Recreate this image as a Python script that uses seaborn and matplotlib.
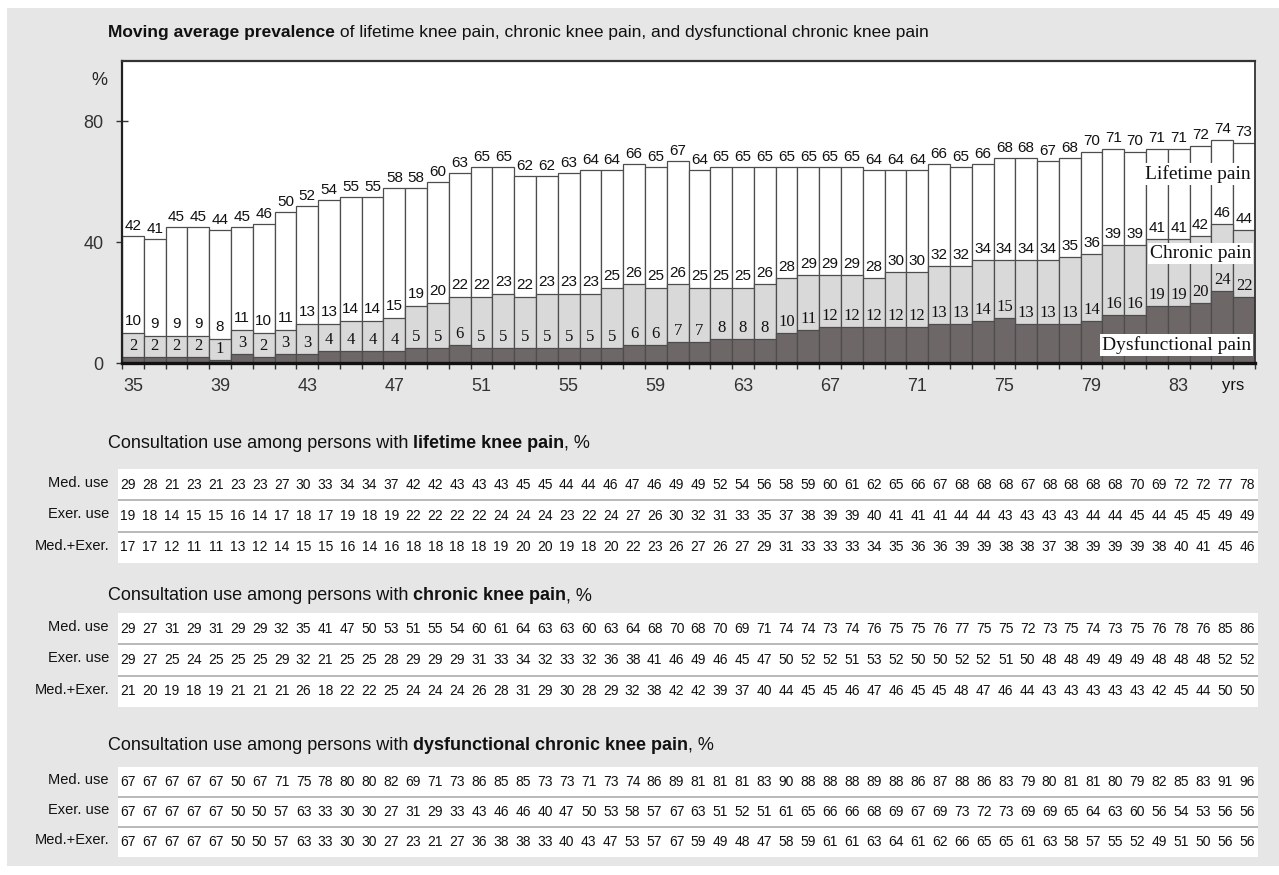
import numpy as np
import pandas as pd
import matplotlib
matplotlib.use("Agg")
import matplotlib.pyplot as plt
import matplotlib.transforms as mtransforms
from matplotlib import font_manager
from matplotlib.patches import Rectangle
import seaborn as sns

# ---------------------------------------------------------------- data
ages = list(range(35, 87))

lifetime = [42, 41, 45, 45, 44, 45, 46, 50, 52, 54, 55, 55, 58, 58, 60, 63, 65, 65,
            62, 62, 63, 64, 64, 66, 65, 67, 64, 65, 65, 65, 65, 65, 65, 65, 64, 64,
            64, 66, 65, 66, 68, 68, 67, 68, 70, 71, 70, 71, 71, 72, 74, 73]
chronic = [10, 9, 9, 9, 8, 11, 10, 11, 13, 13, 14, 14, 15, 19, 20, 22, 22, 23,
           22, 23, 23, 23, 25, 26, 25, 26, 25, 25, 25, 26, 28, 29, 29, 29, 28, 30,
           30, 32, 32, 34, 34, 34, 34, 35, 36, 39, 39, 41, 41, 42, 46, 44]
dysfunctional = [2, 2, 2, 2, 1, 3, 2, 3, 3, 4, 4, 4, 4, 5, 5, 6, 5, 5,
                 5, 5, 5, 5, 5, 6, 6, 7, 7, 8, 8, 8, 10, 11, 12, 12, 12, 12,
                 12, 13, 13, 14, 15, 13, 13, 13, 14, 16, 16, 19, 19, 20, 24, 22]

lifetime_med = [29, 28, 21, 23, 21, 23, 23, 27, 30, 33, 34, 34, 37, 42, 42, 43, 43, 43,
                45, 45, 44, 44, 46, 47, 46, 49, 49, 52, 54, 56, 58, 59, 60, 61, 62, 65,
                66, 67, 68, 68, 68, 67, 68, 68, 68, 68, 70, 69, 72, 72, 77, 78]
lifetime_exer = [19, 18, 14, 15, 15, 16, 14, 17, 18, 17, 19, 18, 19, 22, 22, 22, 22, 24,
                 24, 24, 23, 22, 24, 27, 26, 30, 32, 31, 33, 35, 37, 38, 39, 39, 40, 41,
                 41, 41, 44, 44, 43, 43, 43, 43, 44, 44, 45, 44, 45, 45, 49, 49]
lifetime_both = [17, 17, 12, 11, 11, 13, 12, 14, 15, 15, 16, 14, 16, 18, 18, 18, 18, 19,
                 20, 20, 19, 18, 20, 22, 23, 26, 27, 26, 27, 29, 31, 33, 33, 33, 34, 35,
                 36, 36, 39, 39, 38, 38, 37, 38, 39, 39, 39, 38, 40, 41, 45, 46]

chronic_med = [29, 27, 31, 29, 31, 29, 29, 32, 35, 41, 47, 50, 53, 51, 55, 54, 60, 61,
               64, 63, 63, 60, 63, 64, 68, 70, 68, 70, 69, 71, 74, 74, 73, 74, 76, 75,
               75, 76, 77, 75, 75, 72, 73, 75, 74, 73, 75, 76, 78, 76, 85, 86]
chronic_exer = [29, 27, 25, 24, 25, 25, 25, 29, 32, 21, 25, 25, 28, 29, 29, 29, 31, 33,
                34, 32, 33, 32, 36, 38, 41, 46, 49, 46, 45, 47, 50, 52, 52, 51, 53, 52,
                50, 50, 52, 52, 51, 50, 48, 48, 49, 49, 49, 48, 48, 48, 52, 52]
chronic_both = [21, 20, 19, 18, 19, 21, 21, 21, 26, 18, 22, 22, 25, 24, 24, 24, 26, 28,
                31, 29, 30, 28, 29, 32, 38, 42, 42, 39, 37, 40, 44, 45, 45, 46, 47, 46,
                45, 45, 48, 47, 46, 44, 43, 43, 43, 43, 43, 42, 45, 44, 50, 50]

dysf_med = [67, 67, 67, 67, 67, 50, 67, 71, 75, 78, 80, 80, 82, 69, 71, 73, 86, 85,
            85, 73, 73, 71, 73, 74, 86, 89, 81, 81, 81, 83, 90, 88, 88, 88, 89, 88,
            86, 87, 88, 86, 83, 79, 80, 81, 81, 80, 79, 82, 85, 83, 91, 96]
dysf_exer = [67, 67, 67, 67, 67, 50, 50, 57, 63, 33, 30, 30, 27, 31, 29, 33, 43, 46,
             46, 40, 47, 50, 53, 58, 57, 67, 63, 51, 52, 51, 61, 65, 66, 66, 68, 69,
             67, 69, 73, 72, 73, 69, 69, 65, 64, 63, 60, 56, 54, 53, 56, 56]
dysf_both = [67, 67, 67, 67, 67, 50, 50, 57, 63, 33, 30, 30, 27, 23, 21, 27, 36, 38,
             38, 33, 40, 43, 47, 53, 57, 67, 59, 49, 48, 47, 58, 59, 61, 61, 63, 64,
             61, 62, 66, 65, 65, 61, 63, 58, 57, 55, 52, 49, 51, 50, 56, 56]

row_labels = ["Med. use", "Exer. use", "Med.+Exer."]

# ---------------------------------------------------------------- style
sns.set_theme(style="white")
available = {f.name for f in font_manager.fontManager.ttflist}
HAS_NARROW = "Liberation Sans Narrow" in available
NARROW = "Liberation Sans Narrow" if HAS_NARROW else "Liberation Sans"
SANS = "Liberation Sans"
SERIF = "Liberation Serif"
plt.rcParams["font.family"] = [SANS, "DejaVu Sans"]


def ns(size):
    """Font size for the compact labels; the condensed face can run larger."""
    return size * 1.15 if HAS_NARROW else size


W, H = 1279, 875
fig = plt.figure(figsize=(W / 100, H / 100), dpi=100, facecolor="white")


def fx(px):
    return px / W


def fy(py):
    return 1 - py / H


# grey panel behind everything
fig.patches.append(Rectangle((fx(7), fy(866)), fx(1279) - fx(7), fy(8) - fy(866),
                             transform=fig.transFigure, facecolor="#e6e6e6",
                             edgecolor="none", zorder=-10))

renderer = fig.canvas.get_renderer()


def rich_text(x_px, y_px, parts, size):
    x = x_px
    for txt, weight in parts:
        t = fig.text(fx(x), fy(y_px), txt, fontsize=size, fontweight=weight,
                     family=[SANS, "DejaVu Sans"], ha="left", va="center", color="#111111")
        x += t.get_window_extent(renderer=renderer).width


# ---------------------------------------------------------------- bar chart
ax = fig.add_axes([fx(122), fy(363), fx(1255) - fx(122), (363 - 61) / H])
ax.set_facecolor("white")

df = pd.DataFrame({"age": [str(a) for a in ages], "lifetime": lifetime,
                   "chronic": chronic, "dysfunctional": dysfunctional})
for col, colr in [("lifetime", "white"), ("chronic", "#d9d9d9"),
                  ("dysfunctional", "#6e6767")]:
    sns.barplot(data=df, x="age", y=col, color=colr, width=1.0, saturation=1,
                edgecolor="#4d4d4d", linewidth=0.9, errorbar=None, ax=ax)

n = len(ages)
ax.set_xlim(-0.5, n - 0.5)
ax.set_ylim(0, 100)
ax.set_xlabel("")
ax.set_ylabel("")

for i in range(n):
    ax.annotate(str(lifetime[i]), (i, lifetime[i]), xytext=(0, 4.4),
                textcoords="offset points", ha="center", va="baseline",
                fontsize=ns(11), family=[NARROW, SANS], color="#111111")
    ax.annotate(str(chronic[i]), (i, chronic[i]), xytext=(0, 5.4),
                textcoords="offset points", ha="center", va="baseline",
                fontsize=ns(11), family=[NARROW, SANS], color="#111111")
    ax.annotate(str(dysfunctional[i]), (i, dysfunctional[i]), xytext=(0, 5.0),
                textcoords="offset points", ha="center", va="baseline",
                fontsize=12, family=[SERIF], color="#111111")

# series names written inside the plot
blend = mtransforms.blended_transform_factory(ax.transAxes, ax.transData)
for name, yv in [("Lifetime pain", 62.5), ("Chronic pain", 36.2),
                 ("Dysfunctional pain", 6.0)]:
    ax.text(0.9965, yv, name, transform=blend, ha="right", va="center",
            fontsize=14, family=[SERIF], color="#111111", zorder=10,
            bbox=dict(facecolor="white", edgecolor="none", pad=1.5))

ax.text(-0.02, 93.4, "%", transform=blend, ha="center", va="center",
        fontsize=ns(13), family=[NARROW, SANS], color="#222222")

# x axis: tick marks on bar edges, labels under every fourth bar
ax.xaxis.remove_overlapping_locs = False
ax.set_xticks(np.arange(-0.5, n, 1.0))
ax.set_xticklabels([])
ax.tick_params(axis="x", which="major", direction="out", length=4, width=1,
               color="#333333", bottom=True)
label_idx = [i for i, a in enumerate(ages) if (a - ages[0]) % 4 == 0]
ax.set_xticks(label_idx + [50.5], minor=True)
ax.set_xticklabels([str(ages[i]) for i in label_idx] + ["yrs"], minor=True)
ax.tick_params(axis="x", which="minor", length=0, pad=11, labelsize=ns(13),
               labelcolor="#333333", bottom=True)
for lab in ax.get_xticklabels(minor=True):
    lab.set_family([NARROW, SANS])
    if lab.get_text() == "yrs":
        lab.set_color("#111111")
        lab.set_fontsize(ns(12))

ax.set_yticks([0, 40, 80])
ax.set_yticklabels(["0", "40", "80"])
ax.tick_params(axis="y", direction="inout", length=9, width=1, color="#333333",
               pad=9, labelsize=ns(13), labelcolor="#333333", left=True)
for lab in ax.get_yticklabels():
    lab.set_family([NARROW, SANS])

for side, lw, c in [("left", 1.6, "#222222"), ("top", 1.6, "#333333"),
                    ("right", 1.3, "#333333"), ("bottom", 2.4, "#111111")]:
    ax.spines[side].set_visible(True)
    ax.spines[side].set_linewidth(lw)
    ax.spines[side].set_color(c)

# ---------------------------------------------------------------- title
rich_text(108, 32, [("Moving average prevalence", "bold"),
                    (" of lifetime knee pain, chronic knee pain, and dysfunctional chronic knee pain", "normal")],
          12.5)


# ---------------------------------------------------------------- tables
def draw_table(top_px, bottom_px, rows):
    tax = fig.add_axes([fx(118), fy(bottom_px), 1140 / W, (bottom_px - top_px) / H])
    tax.set_facecolor("white")
    tax.set_xlim(-0.456, n - 0.5)
    tax.set_ylim(3, 0)
    for s in tax.spines.values():
        s.set_visible(False)
    tax.set_xticks([])
    tax.set_yticks([])
    for yl in (1, 2):
        tax.axhline(yl, color="#a6a6a6", lw=1.1)
    tblend = mtransforms.blended_transform_factory(tax.transAxes, tax.transData)
    for r, (label, vals) in enumerate(rows):
        for i, v in enumerate(vals):
            tax.text(i, r + 0.5, str(v), ha="center", va="center",
                     fontsize=ns(10), family=[NARROW, SANS], color="#111111")
        tax.text(-0.008, r + 0.45, label, transform=tblend, ha="right", va="center",
                 fontsize=ns(10.5), family=[NARROW, SANS], color="#111111")


rich_text(108, 443, [("Consultation use among persons with ", "normal"),
                     ("lifetime knee pain", "bold"), (", %", "normal")], 13)
draw_table(469, 563, list(zip(row_labels, [lifetime_med, lifetime_exer, lifetime_both])))

rich_text(108, 596, [("Consultation use among persons with ", "normal"),
                     ("chronic knee pain", "bold"), (", %", "normal")], 13)
draw_table(613, 707, list(zip(row_labels, [chronic_med, chronic_exer, chronic_both])))

rich_text(108, 745, [("Consultation use among persons with ", "normal"),
                     ("dysfunctional chronic knee pain", "bold"), (", %", "normal")], 13)
draw_table(767, 857, list(zip(row_labels, [dysf_med, dysf_exer, dysf_both])))

fig.savefig("out.png", dpi=100, facecolor="white")
